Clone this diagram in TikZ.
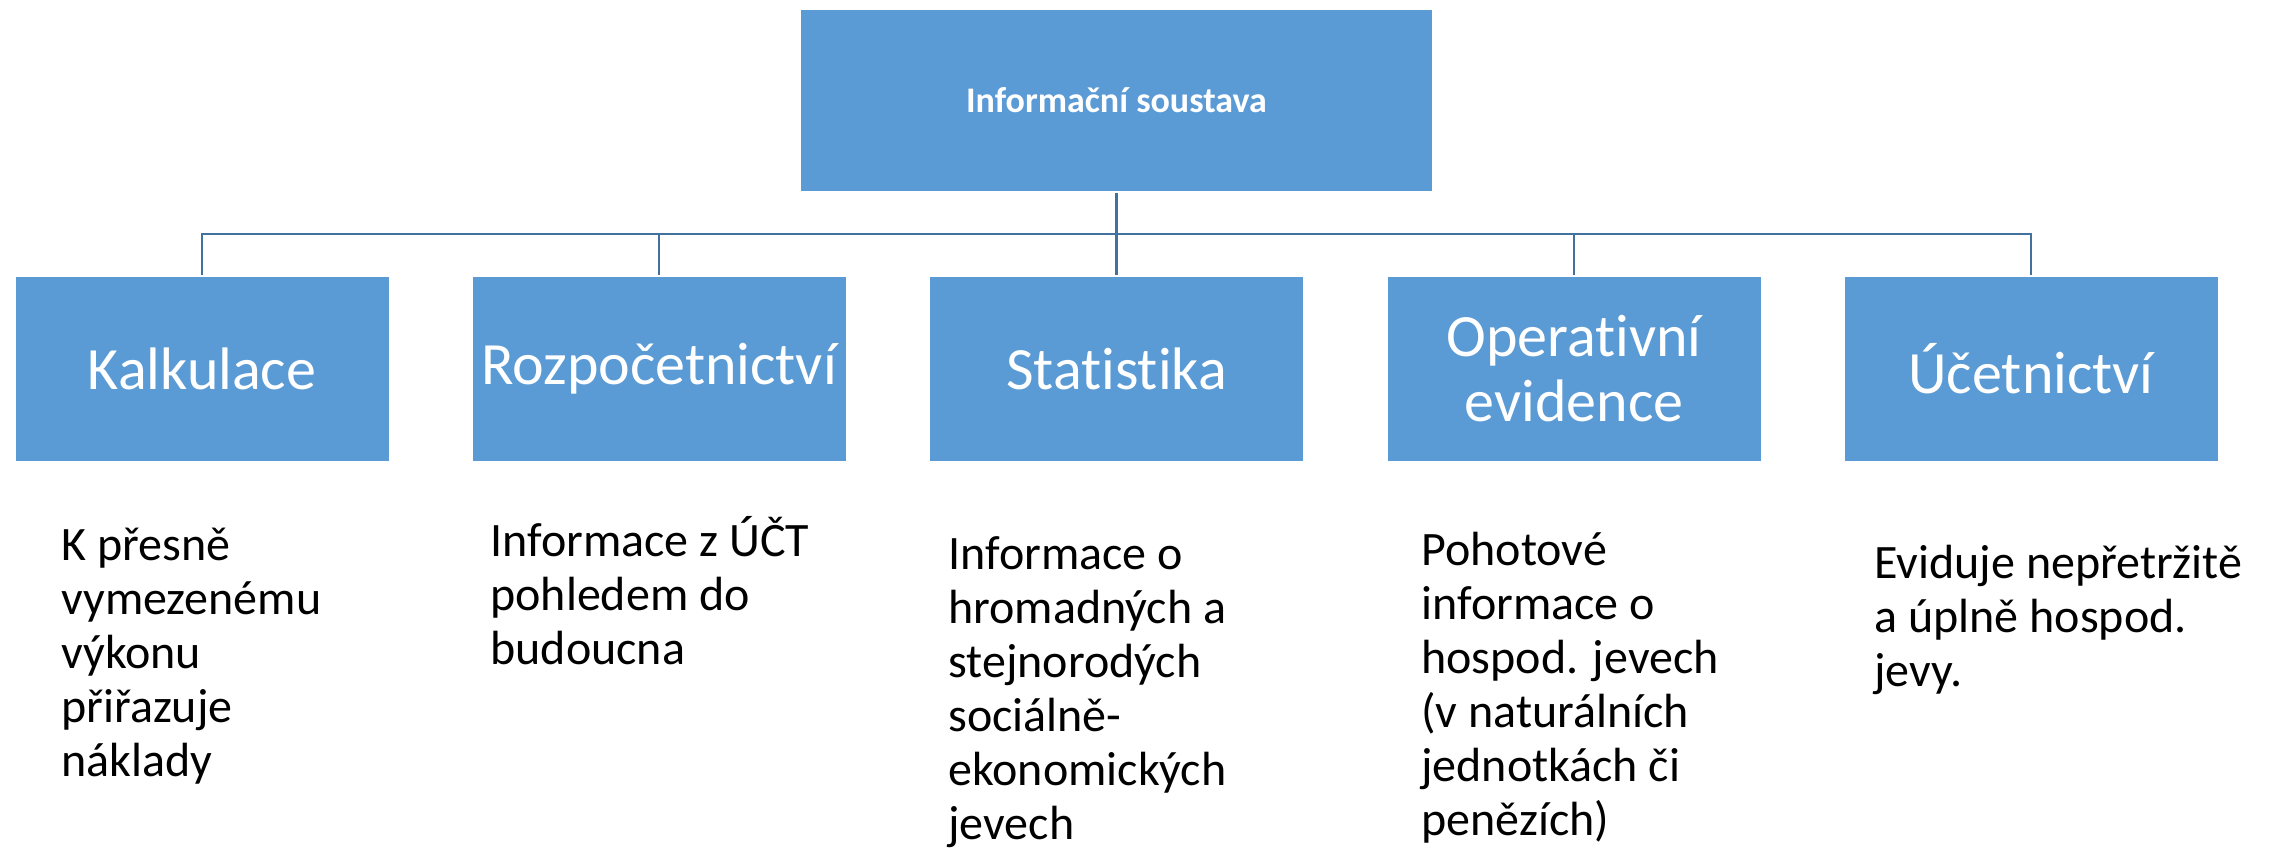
\documentclass[tikz,border=0pt]{standalone}
\usepackage{fontspec}
\setmainfont{Carlito}[Ligatures=NoCommon]
\definecolor{boxblue}{HTML}{5B9BD5}
\definecolor{linkblue}{HTML}{41719C}
\begin{document}
\begin{tikzpicture}[x=0.5pt,y=-0.5pt,
  topbox/.style={fill=boxblue, draw=white, line width=1pt, minimum width=316.5pt, minimum height=91.5pt, inner sep=0pt, text=white, font=\fontsize{18}{22}\selectfont\bfseries},
  childbox/.style={fill=boxblue, draw=white, line width=1pt, minimum width=187.5pt, minimum height=93pt, inner sep=0pt, text=white, align=center, font=\fontsize{30}{32.5}\selectfont},
  desc/.style={anchor=base west, align=left, inner sep=0pt, font=\fontsize{24}{27}\selectfont},
  link/.style={draw=linkblue, line width=1.4pt}]
\useasboundingbox (0,0) rectangle (2269,858);
\node[topbox] (top) at (1116.5,100.5) {Informační soustava};
\node[childbox] (c1) at (202,369) {Kalkulace};
\node[childbox] (c2) at (659,369) {Rozpočetnictví};
\node[childbox] (c3) at (1116.5,369) {Statistika};
\node[childbox] (c4) at (1574,369) {Operativní\\evidence};
\node[childbox] (c5) at (2031,369) {Účetnictví};
\coordinate (hub) at (1116.5,234);
\draw[link] (top.south) -- (hub);
\foreach \c in {c1,c2,c3,c4,c5} {\draw[link] (hub) -| (\c.north);}
\node[desc] (d1) at (61,776) {K přesně\\vymezenému\\výkonu\\přiřazuje\\náklady};
\node[desc] (d2) at (490,664) {Informace z ÚČT\\pohledem do\\budoucna};
\node[desc] (d3) at (948,839) {Informace o\\hromadných a\\stejnorodých\\sociálně-\\ekonomických\\jevech};
\node[desc] (d4) at (1421,835) {Pohotové\\informace o\\hospod. jevech\\(v naturálních\\jednotkách či\\penězích)};
\node[desc] (d5) at (1874,686) {Eviduje nepřetržitě\\a úplně hospod.\\jevy.};
\end{tikzpicture}
\end{document}
